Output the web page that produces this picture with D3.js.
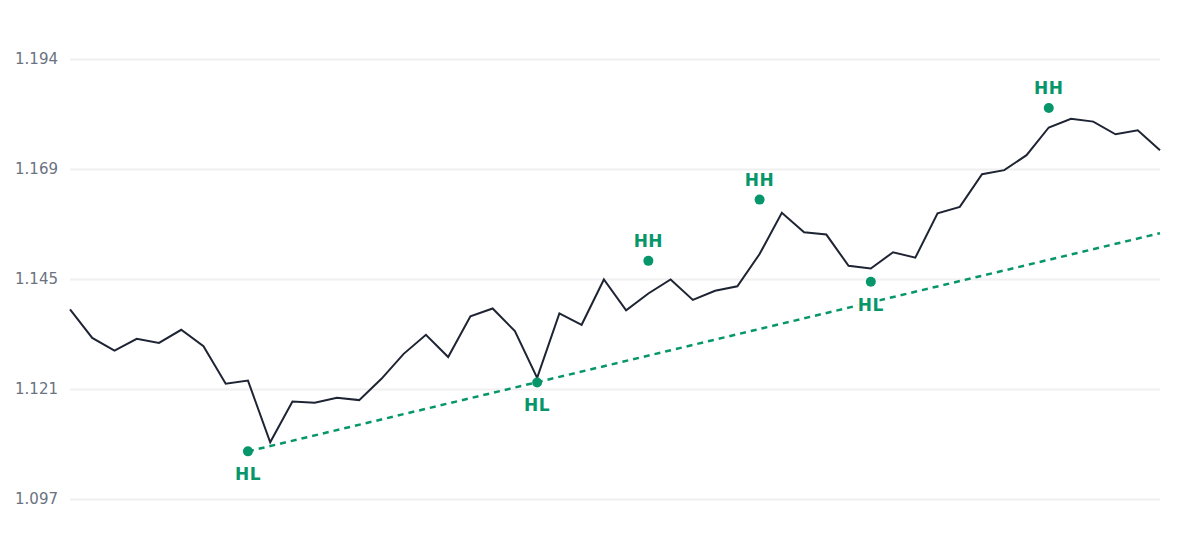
<!DOCTYPE html>
<html>
<head>
<meta charset="utf-8">
<script src="https://cdn.jsdelivr.net/npm/d3@7"></script>
<style>
  body { margin: 0; background: #fff; }
  svg { display: block; font-family: "DejaVu Sans", sans-serif; }
</style>
</head>
<body>
<div id="chart"></div>
<script>
// price series (one value per bar)
var prices = [
  1.1388, 1.1325, 1.1297, 1.1323, 1.1314, 1.1343, 1.1307, 1.1224, 1.1231, 1.1095,
  1.1185, 1.1182, 1.1193, 1.1188, 1.1235, 1.1290, 1.1332, 1.1283, 1.1373, 1.1390,
  1.1340, 1.1237, 1.1379, 1.1354, 1.1454, 1.1386, 1.1423, 1.1454, 1.1409, 1.1429,
  1.1439, 1.1510, 1.1601, 1.1558, 1.1553, 1.1484, 1.1478, 1.1514, 1.1502, 1.1600,
  1.1614, 1.1686, 1.1695, 1.1728, 1.1789, 1.1808, 1.1802, 1.1774, 1.1783, 1.1739
];

// swing markers
var swingIndex = [8, 21, 26, 31, 36, 44];
var swingValue = [1.1075, 1.1227, 1.1495, 1.1630, 1.1449, 1.1832];
var swingLabel = ["HL", "HL", "HH", "HH", "HL", "HH"];

// trend line through the higher lows
var trendIndex = [8, 49];
var trendValue = [1.1075, 1.1556];

// y axis
var yTicks = [1.097, 1.12125, 1.1455, 1.16975, 1.194];
var yTickLabels = ["1.097", "1.121", "1.145", "1.169", "1.194"];

var width = 1200;
var height = 560;
var margin = { left: 70, right: 40, top: 59, bottom: 61 };

var svg = d3.select('#chart')
    .append('svg')
    .attr('width', width)
    .attr('height', height);

var x = d3.scaleLinear()
    .domain([0, prices.length - 1])
    .range([margin.left, width - margin.right]);

var y = d3.scaleLinear()
    .domain([1.097, 1.194])
    .range([height - margin.bottom, margin.top]);

// grid + tick labels
var yAxis = svg.append('g')
    .attr('transform', 'translate(' + margin.left + ',0)')
    .call(d3.axisLeft(y)
        .tickValues(yTicks)
        .tickSize(-(width - margin.left - margin.right))
        .tickPadding(12)
        .tickFormat(function (d, i) { return yTickLabels[i]; }));
yAxis.select('.domain').remove();
yAxis.selectAll('line')
    .attr('stroke', '#f0f0f0')
    .attr('stroke-width', 2);
yAxis.selectAll('text')
    .attr('fill', '#6b7280')
    .attr('font-size', 15)
    .attr('font-family', '"DejaVu Sans", sans-serif');

// trend line
var trend = trendIndex.map(function (d, i) { return { i: d, v: trendValue[i] }; });
svg.append('path')
    .datum(trend)
    .attr('fill', 'none')
    .attr('stroke', '#07966a')
    .attr('stroke-width', 2.5)
    .attr('stroke-dasharray', '6,5')
    .attr('d', d3.line().x(d => x(d.i)).y(d => y(d.v)));

// price line
svg.append('path')
    .datum(prices)
    .attr('fill', 'none')
    .attr('stroke', '#1e2433')
    .attr('stroke-width', 2)
    .attr('stroke-linejoin', 'miter')
    .attr('d', d3.line().x((d, i) => x(i)).y(d => y(d)));

// swing points
var swings = swingIndex.map(function (d, i) {
    return { i: d, v: swingValue[i], label: swingLabel[i] };
});

var sg = svg.append('g');
sg.selectAll('circle')
    .data(swings)
    .enter()
    .append('circle')
    .attr('cx', d => x(d.i))
    .attr('cy', d => y(d.v))
    .attr('r', 5)
    .attr('fill', '#07966a');

sg.selectAll('text')
    .data(swings)
    .enter()
    .append('text')
    .attr('x', d => x(d.i))
    .attr('y', d => d.label == 'HH' ? y(d.v) - 14 : y(d.v) + 29)
    .attr('text-anchor', 'middle')
    .attr('font-size', 17)
    .attr('font-weight', 'bold')
    .attr('fill', '#07966a')
    .attr('stroke', '#fff')
    .attr('stroke-width', 4)
    .attr('paint-order', 'stroke')
    .attr('letter-spacing', 0.5)
    .text(d => d.label);
</script>
</body>
</html>
